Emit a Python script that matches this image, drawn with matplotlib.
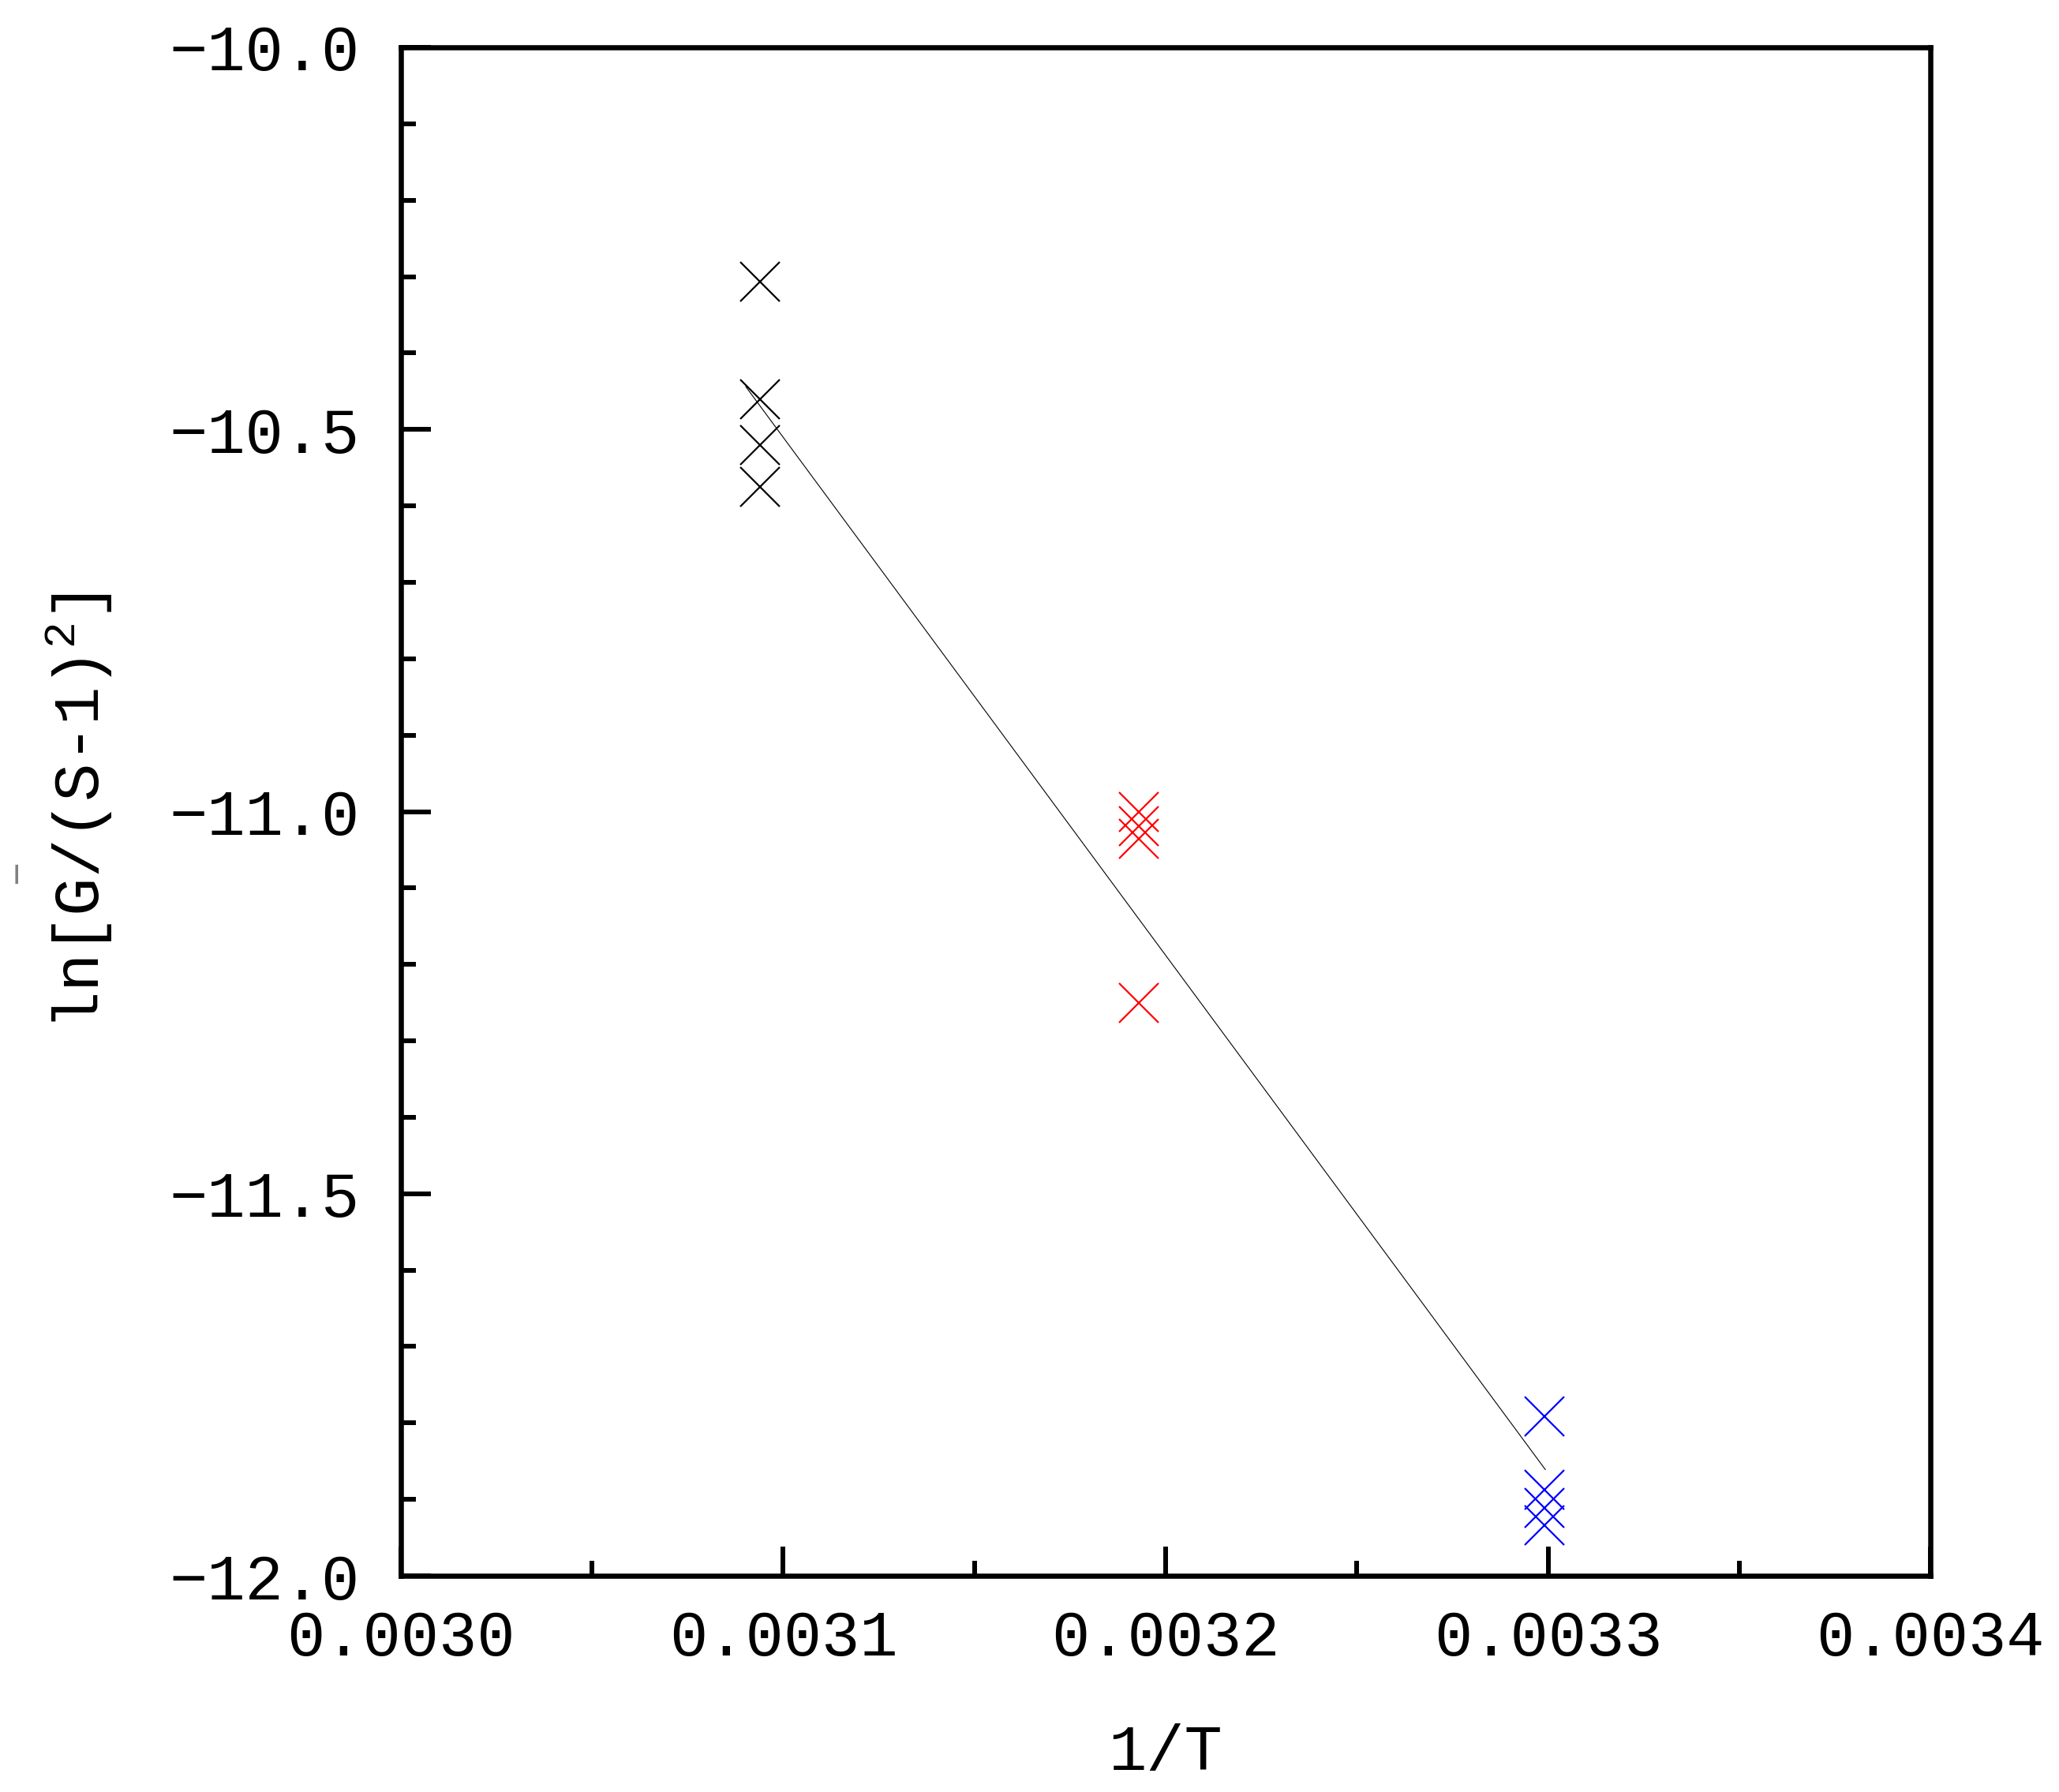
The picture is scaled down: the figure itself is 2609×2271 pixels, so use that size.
import matplotlib
matplotlib.use("Agg")
import matplotlib.pyplot as plt
from matplotlib.ticker import MultipleLocator, FuncFormatter

# ---- data ----
inv_T_black = [0.003094, 0.003094, 0.003094, 0.003094]
lnG_black = [-10.307, -10.460, -10.520, -10.575]

inv_T_red = [0.003193, 0.003193, 0.003193, 0.003193]
lnG_red = [-11.001, -11.019, -11.036, -11.250]

inv_T_blue = [0.003299, 0.003299, 0.003299, 0.003299]
lnG_blue = [-11.791, -11.887, -11.911, -11.934]

# fitted line end points
fit_x = [0.0030902, 0.0032993]
fit_y = [-10.444, -11.861]

x_ticks = [0.0030, 0.0031, 0.0032, 0.0033, 0.0034]
y_ticks = [-12.0, -11.5, -11.0, -10.5, -10.0]

plt.rcParams['font.family'] = ['Liberation Mono', 'DejaVu Sans Mono']
plt.rcParams['mathtext.fontset'] = 'custom'
plt.rcParams['mathtext.rm'] = 'Liberation Mono'
plt.rcParams['mathtext.it'] = 'Liberation Mono'

fig = plt.figure(figsize=(26.09, 22.71), dpi=100)
ax = fig.add_axes([508 / 2609, 1 - 1997 / 2271, (2446 - 508) / 2609, (1997 - 60) / 2271])

mk = dict(linestyle="none", marker="x", markersize=36, markeredgewidth=1.6)
ax.plot(inv_T_black, lnG_black, color="black", **mk)
ax.plot(inv_T_red, lnG_red, color="red", **mk)
ax.plot(inv_T_blue, lnG_blue, color="blue", **mk)
ax.plot(fit_x, fit_y, color="black", linewidth=0.8)

ax.set_xlim(0.0030, 0.0034)
ax.set_ylim(-12.0, -10.0)
ax.set_xticks(x_ticks)
ax.set_yticks(y_ticks)
ax.xaxis.set_minor_locator(MultipleLocator(0.00005))
ax.yaxis.set_minor_locator(MultipleLocator(0.1))
ax.xaxis.set_major_formatter(FuncFormatter(lambda v, _: f"{v:.4f}"))
ax.yaxis.set_major_formatter(FuncFormatter(lambda v, _: f"{v:.1f}".replace("-", "\u2212")))

for s in ax.spines.values():
    s.set_linewidth(4.7)
ax.tick_params(which="both", direction="in", top=False, right=False, width=4.3, labelsize=58)
ax.tick_params(axis="x", which="major", length=27, pad=30)
ax.tick_params(axis="y", which="major", length=27, pad=38)
ax.tick_params(which="minor", length=14)

ax.set_xlabel("1/T", fontsize=58, labelpad=50)
ax.set_ylabel(r"ln[G/(S-1)$^{2}$]", fontsize=58, labelpad=50)

# small grey bar drawn above G in the original label
fig.text(23.5 / 2609, 1 - 1105 / 2271, "\u2212", rotation=90, color="#808080",
         fontsize=36, ha="center", va="center")

fig.savefig("out.png", dpi=100, facecolor="white")
